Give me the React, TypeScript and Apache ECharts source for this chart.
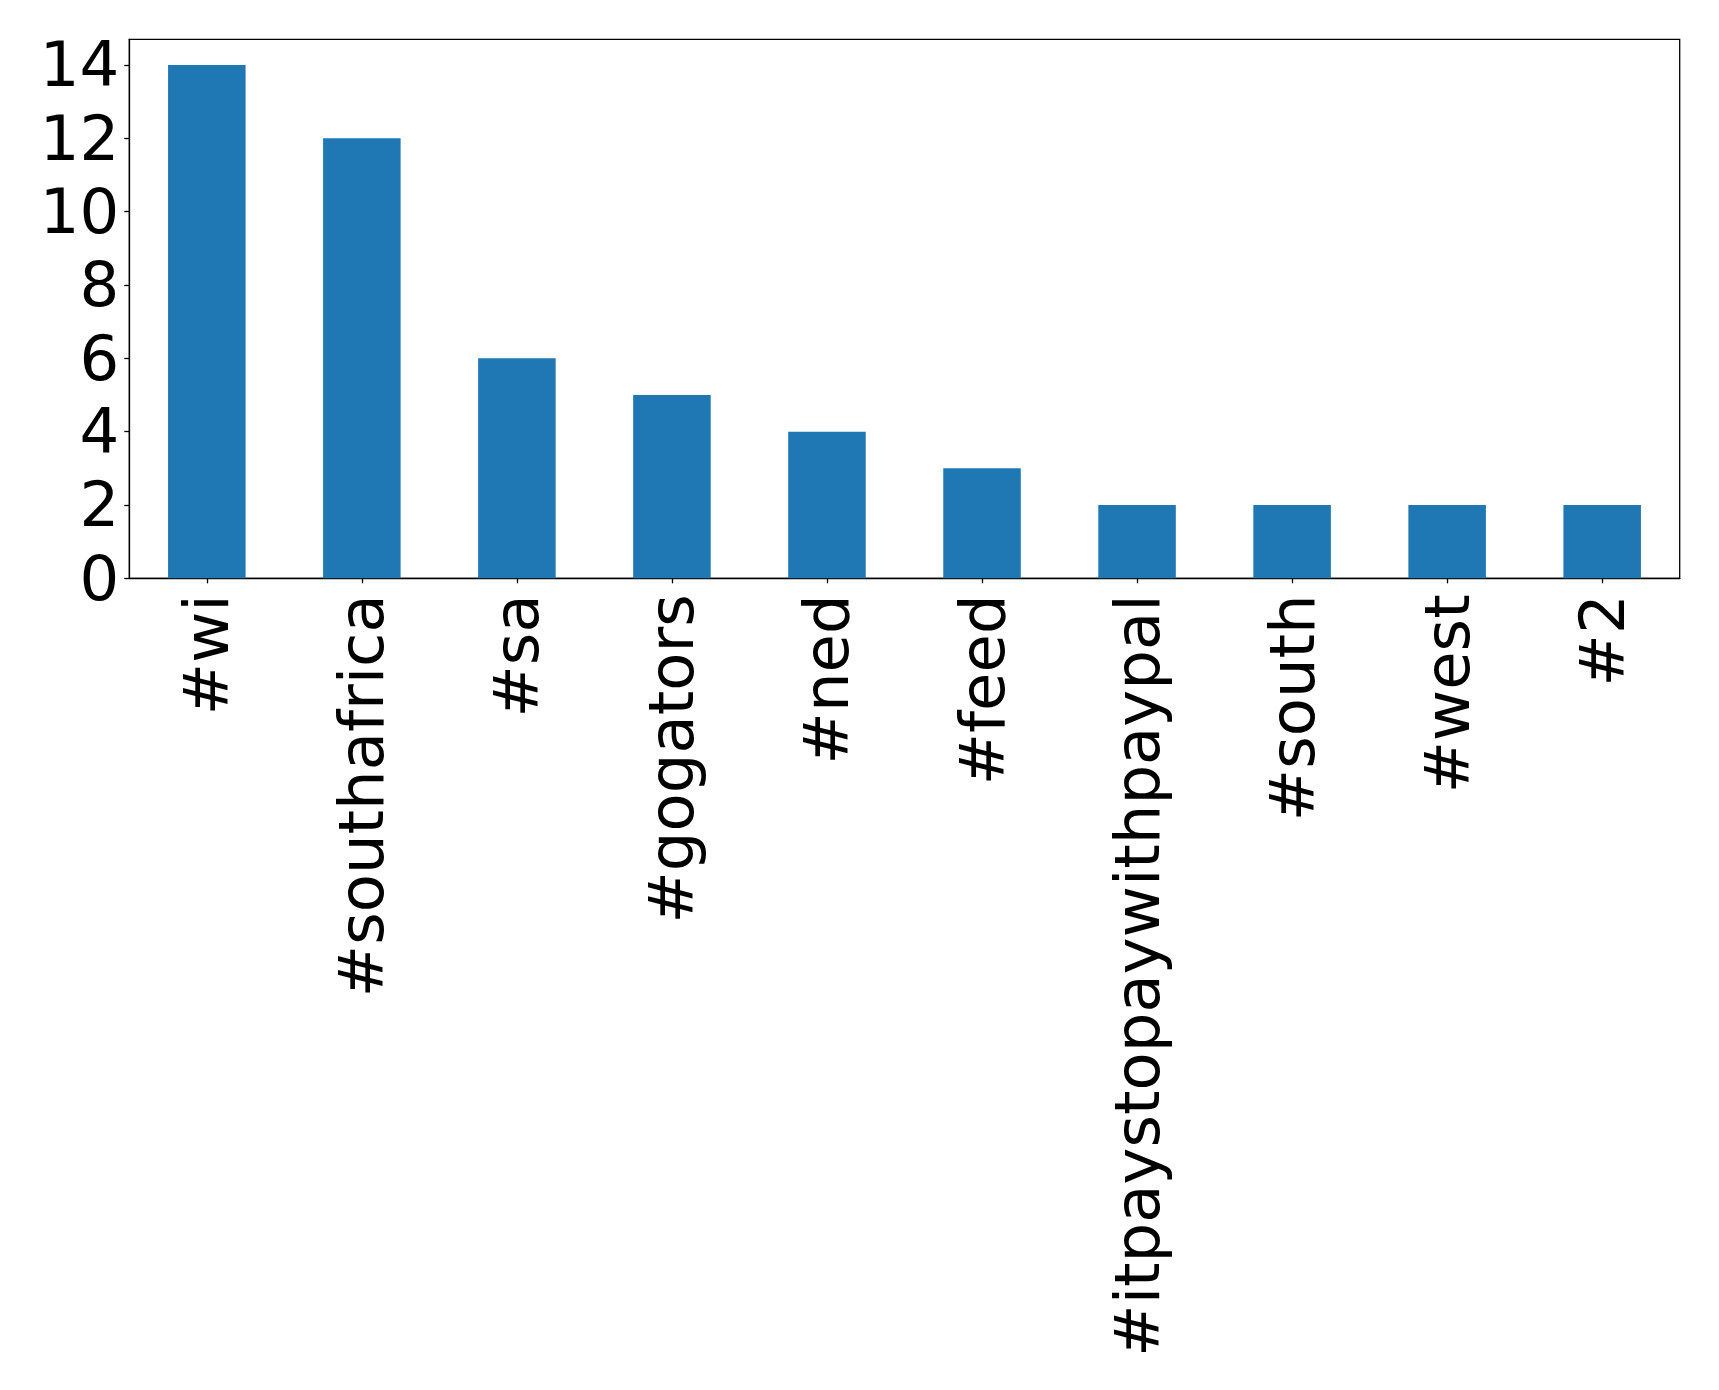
import React, { useEffect, useRef } from "react";
import * as echarts from "echarts";

const categories = ["#wi", "#southafrica", "#sa", "#gogators", "#ned", "#feed", "#itpaystopaywithpaypal", "#south", "#west", "#2"];
const counts = [14, 12, 6, 5, 4, 3, 2, 2, 2, 2];
const yTicks = [0, 2, 4, 6, 8, 10, 12, 14];

export default function App() {
  const ref = useRef<HTMLDivElement>(null);
  useEffect(() => {
    if (!ref.current) return;
    const chart = echarts.init(ref.current, null, { renderer: "svg" });
    const font = "DejaVu Sans";
    chart.setOption({
      animation: false,
      backgroundColor: "#ffffff",
      grid: {
        left: 129.3,
        top: 39.3,
        right: 39.3,
        bottom: 811.7,
        show: true,
        borderColor: "#000000",
        borderWidth: 1.3,
        backgroundColor: "transparent",
      },
      xAxis: {
        type: "category",
        data: categories,
        boundaryGap: true,
        axisLine: { show: true, lineStyle: { color: "#000", width: 1.3 } },
        axisTick: { show: true, alignWithLabel: true, length: 5, lineStyle: { color: "#000", width: 1.3 } },
        axisLabel: {
          rotate: 90,
          interval: 0,
          margin: 16,
          fontSize: 62.5,
          fontFamily: font,
          color: "#000",
        },
        splitLine: { show: false },
      },
      yAxis: {
        type: "value",
        min: 0,
        max: 14.7,
        interval: 2,
        axisLine: { show: true, lineStyle: { color: "#000", width: 1.3 } },
        axisTick: { show: true, length: 5, lineStyle: { color: "#000", width: 1.3 }, customValues: yTicks },
        axisLabel: {
          margin: 10,
          fontSize: 62.5,
          fontFamily: font,
          color: "#000",
          customValues: yTicks,
        },
        splitLine: { show: false },
      },
      series: [
        {
          type: "bar",
          data: counts,
          barWidth: "50%",
          itemStyle: { color: "#1f77b4" },
        },
      ],
    });
    return () => chart.dispose();
  }, []);
  return (
    <div
      ref={ref}
      style={{ position: "fixed", left: 0, top: 0, width: 1719, height: 1390, background: "#fff" }}
    />
  );
}
